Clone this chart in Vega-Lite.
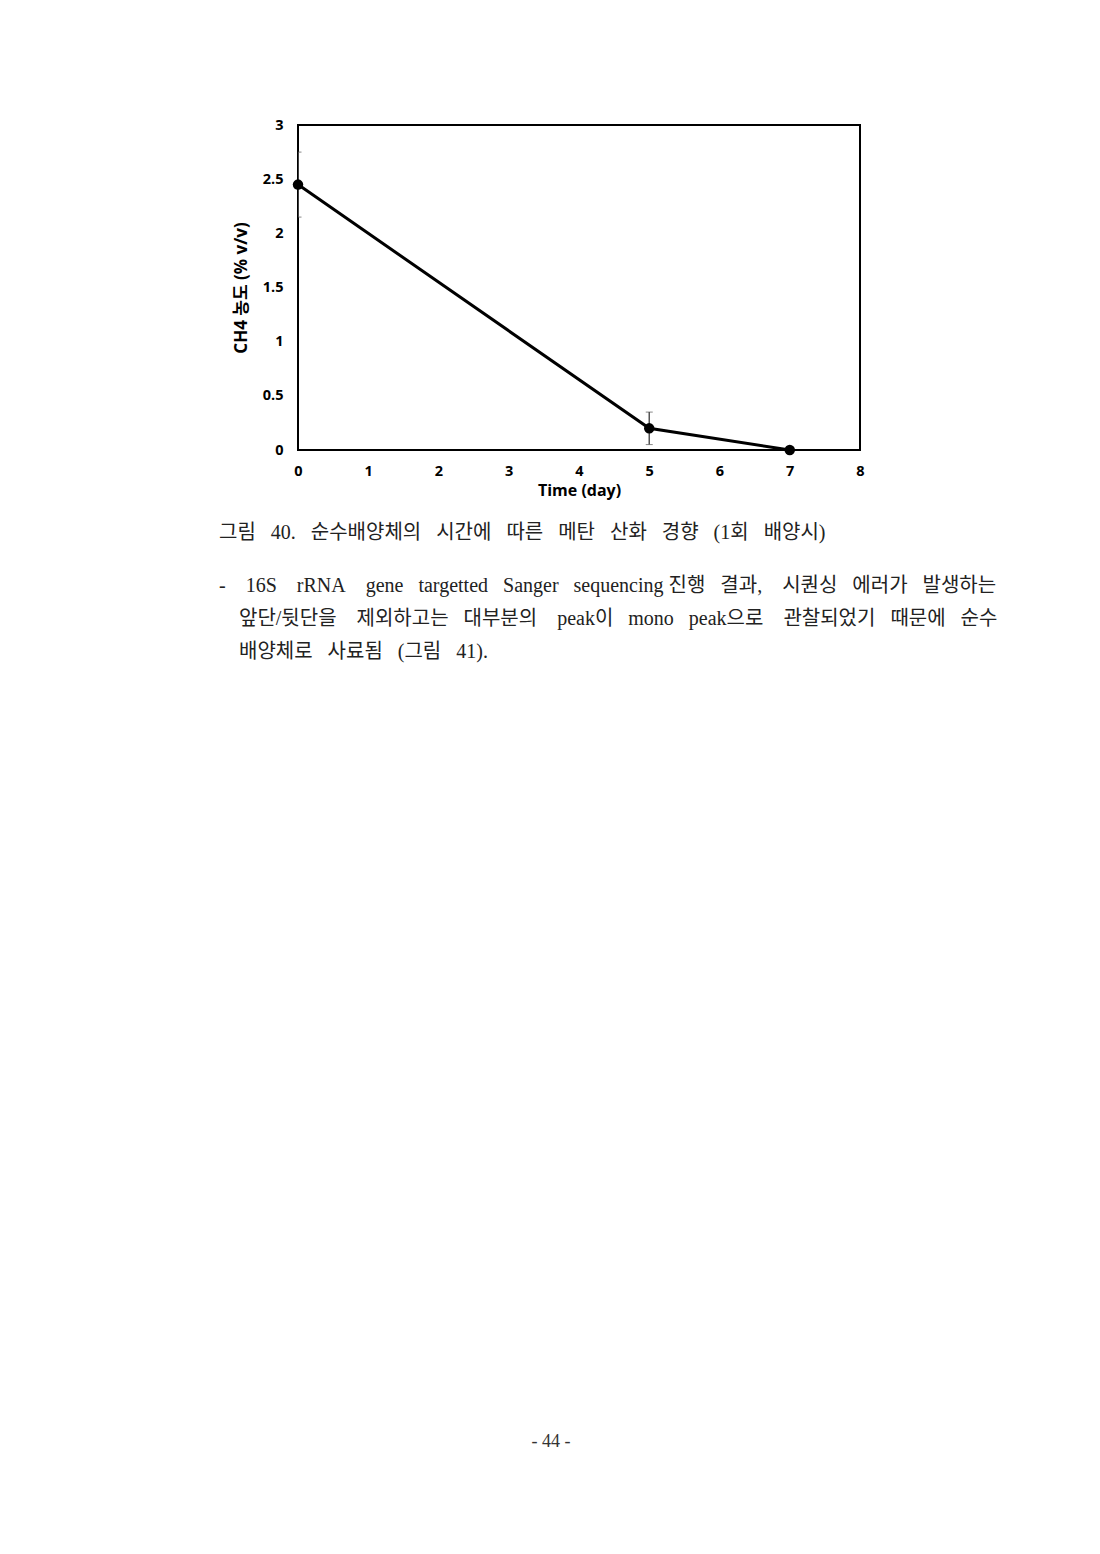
{
  "$schema": "https://vega.github.io/schema/vega-lite/v6.json",
  "background": "white",
  "padding": {"left": 218, "top": 116, "right": 10, "bottom": 10},
  "config": {
    "view": {"stroke": "#000", "strokeWidth": 2},
    "font": "Open Sans, Noto Sans CJK KR"
  },
  "spacing": 769,
  "vconcat": [
    {
      "width": 562,
      "height": 325,
      "data": {"values": [
        {"day": 0, "ch4": 2.45, "lo": 2.15, "hi": 2.75},
        {"day": 5, "ch4": 0.2, "lo": 0.05, "hi": 0.35},
        {"day": 7, "ch4": 0.0, "lo": 0.0, "hi": 0.0}
      ]},
      "title": {
        "text": "그림\u2002 40.\u2002 순수배양체의\u2002 시간에\u2002 따른\u2002 메탄\u2002 산화\u2002 경향\u2002 (1회\u2002 배양시)",
        "subtitle": [
          "-\u2002\u200216S\u2002\u2002rRNA\u2002\u2002gene\u2002 targetted\u2002 Sanger\u2002 sequencing 진행\u2002 결과,\u2002\u2002시퀀싱\u2002 에러가\u2002 발생하는",
          "\u2060\u3000앞단/뒷단을\u2002\u2002제외하고는\u2002 대부분의\u2002\u2002peak이\u2002 mono\u2002 peak으로\u2002\u2002관찰되었기\u2002 때문에\u2002 순수",
          "\u2060\u3000배양체로\u2002 사료됨\u2002 (그림\u2002 41)."
        ],
        "orient": "bottom",
        "anchor": "start",
        "frame": "group",
        "dx": -79,
        "offset": 24,
        "font": "Liberation Serif, Noto Sans CJK KR",
        "fontSize": 20,
        "fontWeight": "normal",
        "color": "#222",
        "subtitleFont": "Liberation Serif, Noto Sans CJK KR",
        "subtitleFontSize": 20,
        "subtitleColor": "#222",
        "subtitlePadding": 33,
        "subtitleLineHeight": 33
      },
      "layer": [
        {
          "mark": {"type": "errorbar", "clip": true, "ticks": {"size": 7, "color": "#555", "strokeWidth": 1.5}, "rule": {"color": "#555", "strokeWidth": 1.5}},
          "encoding": {
            "x": {"field": "day", "type": "quantitative", "title": "Time (day)"},
            "y": {"field": "lo", "type": "quantitative", "title": "CH4 농도 (% v/v)"},
            "y2": {"field": "hi"}
          }
        },
        {
          "mark": {"type": "line", "color": "#000", "strokeWidth": 3},
          "encoding": {
            "x": {"field": "day", "type": "quantitative", "title": "Time (day)"},
            "y": {"field": "ch4", "type": "quantitative", "title": "CH4 농도 (% v/v)"}
          }
        },
        {
          "mark": {"type": "point", "filled": true, "color": "#000", "size": 110, "opacity": 1},
          "encoding": {
            "x": {
              "field": "day", "type": "quantitative", "title": "Time (day)",
              "scale": {"domain": [0, 8], "nice": false},
              "axis": {
                "values": [0, 1, 2, 3, 4, 5, 6, 7, 8], "format": "~g",
                "grid": false, "ticks": false, "domain": false,
                "labelPadding": 14, "labelFontSize": 14.5, "labelFontWeight": "bold", "labelColor": "#000",
                "titleFontSize": 16, "titleFontWeight": "bold", "titleColor": "#000", "titlePadding": 5,
                "labelFlush": false
              }
            },
            "y": {
              "field": "ch4", "type": "quantitative", "title": "CH4 농도 (% v/v)",
              "scale": {"domain": [0, 3], "nice": false},
              "axis": {
                "values": [0, 0.5, 1, 1.5, 2, 2.5, 3], "format": "~g",
                "grid": false, "ticks": false, "domain": false,
                "labelPadding": 15, "labelFontSize": 14.5, "labelFontWeight": "bold", "labelColor": "#000",
                "titleFontSize": 17, "titleFontWeight": "bold", "titleColor": "#000", "titlePadding": 12,
                "labelFlush": false
              }
            }
          }
        }
      ]
    },
    {
      "width": 506,
      "height": 20,
      "view": {"stroke": null},
      "data": {"values": [{"page": "- 44 -"}]},
      "mark": {"type": "text", "font": "Liberation Serif", "fontSize": 18, "color": "#333"},
      "encoding": {"text": {"field": "page"}}
    }
  ]
}
